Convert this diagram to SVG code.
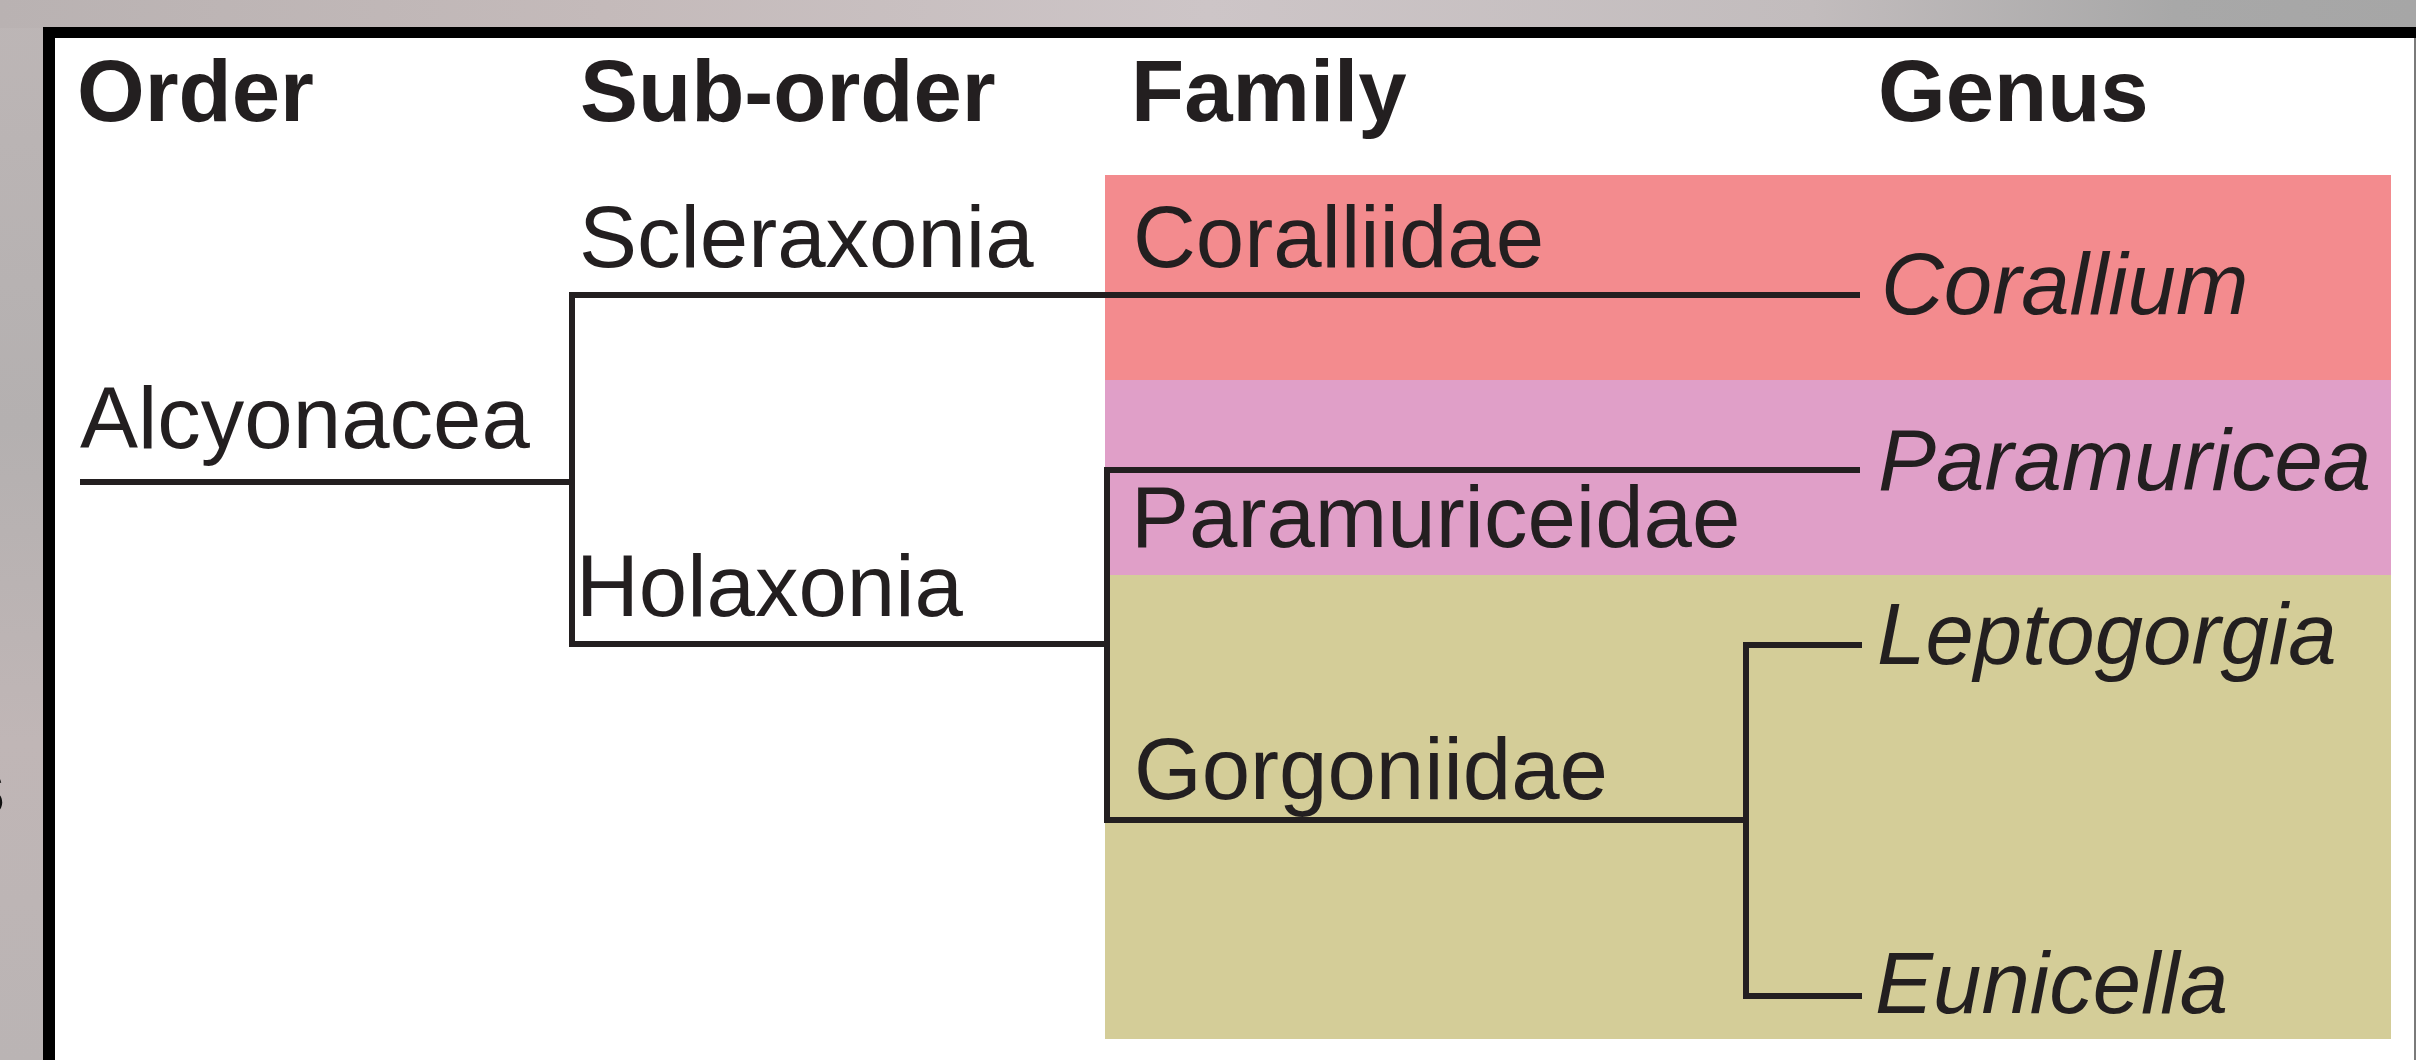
<svg xmlns="http://www.w3.org/2000/svg" width="2416" height="1060" viewBox="0 0 2416 1060">
  <defs>
    <linearGradient id="bgTop" x1="0" y1="0" x2="1" y2="0">
      <stop offset="0" stop-color="#b9b2b2"/>
      <stop offset="0.25" stop-color="#c4baba"/>
      <stop offset="0.5" stop-color="#cdc5c7"/>
      <stop offset="0.75" stop-color="#c2bcbd"/>
      <stop offset="0.9" stop-color="#a8a8a8"/>
      <stop offset="1" stop-color="#a6a6a6"/>
    </linearGradient>
    <linearGradient id="bgLeft" x1="0" y1="0" x2="0" y2="1">
      <stop offset="0" stop-color="#bdb6b6"/>
      <stop offset="0.4" stop-color="#b4b0b0"/>
      <stop offset="0.7" stop-color="#c0b6b6"/>
      <stop offset="1" stop-color="#bab4b4"/>
    </linearGradient>
  </defs>
  <style>
    .hdr { font-family: "Liberation Sans", Arial, sans-serif; font-weight: bold; font-size: 87px; fill: #231f20; }
    .lbl { font-family: "Liberation Sans", Arial, sans-serif; font-size: 87px; fill: #231f20; }
    .gen { font-family: "Liberation Sans", Arial, sans-serif; font-style: italic; font-size: 87px; fill: #231f20; }
    .ln { stroke: #231f20; stroke-width: 6; fill: none; stroke-linecap: butt; stroke-linejoin: miter; }
  </style>

  <!-- background photo -->
  <rect x="0" y="0" width="2416" height="1060" fill="url(#bgLeft)"/>
  <rect x="0" y="0" width="2416" height="28" fill="url(#bgTop)"/>
  <text x="-40" y="815" font-family="Liberation Sans, Arial, sans-serif" font-weight="bold" font-size="82" fill="#111">s</text>

  <!-- panel -->
  <rect x="43" y="27" width="2373" height="1033" fill="#000"/>
  <rect x="55" y="38" width="2361" height="1022" fill="#ffffff"/>
  <rect x="2414" y="38" width="2" height="1022" fill="#7a7a7a"/>

  <!-- colour bands -->
  <g id="bands">
    <rect x="1105" y="175" width="1286" height="205" fill="#f38b8e"/>
    <rect x="1105" y="380" width="1286" height="195" fill="#e09fc8"/>
    <rect x="1105" y="575" width="1286" height="464" fill="#d4cd98"/>
  </g>

  <!-- headers -->
  <g id="headers">
    <text class="hdr" x="77" y="121">Order</text>
    <text class="hdr" x="580" y="121">Sub-order</text>
    <text class="hdr" x="1131" y="121">Family</text>
    <text class="hdr" x="1878" y="121">Genus</text>
  </g>

  <!-- connectors -->
  <g id="connectors">
    <path class="ln" d="M80 482 H572"/>
    <path class="ln" d="M1860 295 H572 V644 H1107"/>
    <path class="ln" d="M1860 470 H1107 V820 H1746"/>
    <path class="ln" d="M1862 645 H1746 V996 H1862"/>
  </g>

  <!-- nodes -->
  <g id="node-alcyonacea"><text class="lbl" x="80" y="448">Alcyonacea</text></g>
  <g id="node-scleraxonia"><text class="lbl" x="579" y="267">Scleraxonia</text></g>
  <g id="node-holaxonia"><text class="lbl" x="576" y="616">Holaxonia</text></g>
  <g id="node-coralliidae"><text class="lbl" x="1133" y="267">Coralliidae</text></g>
  <g id="node-paramuriceidae"><text class="lbl" x="1131" y="547">Paramuriceidae</text></g>
  <g id="node-gorgoniidae"><text class="lbl" x="1134" y="799">Gorgoniidae</text></g>
  <g id="node-corallium"><text class="gen" x="1881" y="314">Corallium</text></g>
  <g id="node-paramuricea"><text class="gen" x="1878" y="490">Paramuricea</text></g>
  <g id="node-leptogorgia"><text class="gen" x="1877" y="664">Leptogorgia</text></g>
  <g id="node-eunicella"><text class="gen" x="1875" y="1013">Eunicella</text></g>
</svg>
